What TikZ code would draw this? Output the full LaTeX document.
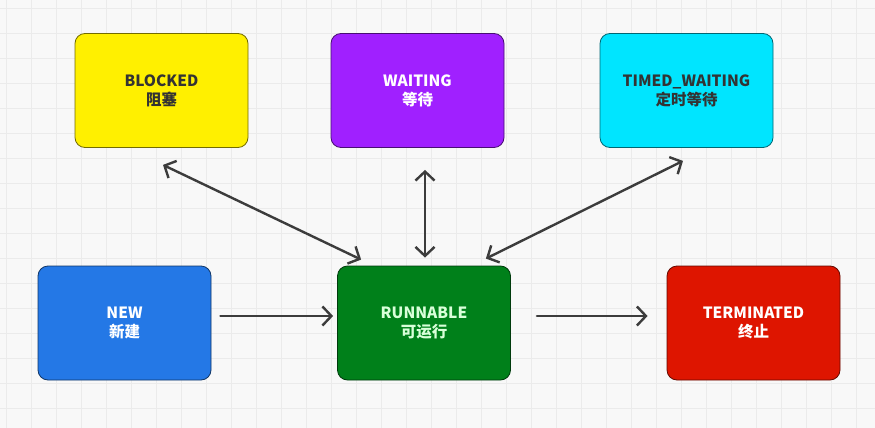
\documentclass[tikz,border=0pt]{standalone}
\usepackage{fontspec}
\newfontfamily\cjk{Noto Sans CJK SC}
\usetikzlibrary{arrows.meta,calc}
\definecolor{pagebg}{HTML}{F8F8F8}
\definecolor{gridln}{HTML}{EBEBEB}
\definecolor{blockedfill}{HTML}{FFF000}
\definecolor{waitingfill}{HTML}{A020FF}
\definecolor{timedfill}{HTML}{00E5FF}
\definecolor{newfill}{HTML}{2478E6}
\definecolor{runfill}{HTML}{00801A}
\definecolor{termfill}{HTML}{DE1500}
\definecolor{darktext}{HTML}{333333}
\definecolor{linkgray}{HTML}{3C3C3C}
\begin{document}
\begin{tikzpicture}[x=1pt,y=-1pt,line join=round,line cap=round,
  font=\cjk\bfseries\fontsize{15.5}{19}\selectfont,
  state/.style={fill=#1,draw=#1!45!black,line width=.8pt,rounded corners=10pt,
    minimum width=173pt,minimum height=114pt,align=center,inner sep=0pt},
  link/.style={draw=linkgray,line width=2.4pt,-{Straight Barb[length=9pt,width=19pt]}},
  twoway/.style={link,{Straight Barb[length=9pt,width=19pt]}-{Straight Barb[length=9pt,width=19pt]}}]
  \useasboundingbox (0,0) rectangle (875,428);
  % background grid
  \begin{scope}
    \clip (0,0) rectangle (875,428);
    \fill[pagebg] (0,0) rectangle (875,428);
    \foreach \i in {0,...,34}
      \draw[gridln,line width=.8pt,line cap=butt] ({6.5+25*\i},0) -- ({6.5+25*\i},428);
    \foreach \j in {0,...,17}
      \draw[gridln,line width=.8pt,line cap=butt] (0,{8+25*\j}) -- (875,{8+25*\j});
  \end{scope}
  % states
  \node[state=blockedfill,text=darktext] (blocked) at (161.5,90.5) {BLOCKED\\阻塞};
  \node[state=waitingfill,text=white] (waiting) at (417.5,90.5) {WAITING\\等待};
  \node[state=timedfill,text=darktext] (timed) at (686.5,90.5) {TIMED\_WAITING\\定时等待};
  \node[state=newfill,text=white] (new) at (124.5,323) {NEW\\新建};
  \node[state=runfill,text=green!15!white] (runnable) at (424,323) {RUNNABLE\\可运行};
  \node[state=termfill,text=white] (terminated) at (753.5,323) {TERMINATED\\终止};
  % transitions
  \draw[link] ($(new.east)+(9,-7)$) -- ($(runnable.west)+(-4,-7)$);
  \draw[link] ($(runnable.east)+(26,-7)$) -- ($(terminated.west)+(-19,-7)$);
  \draw[twoway] ($(blocked.south)+(1.5,17)$) -- ($(runnable.north west)+(24,-6)$);
  \draw[twoway] ($(waiting.south)+(7.5,22)$) -- ($(runnable.north)+(1,-8)$);
  \draw[twoway] ($(timed.south)+(-3.5,13)$) -- ($(runnable.north east)+(-25,-7)$);
\end{tikzpicture}
\end{document}
